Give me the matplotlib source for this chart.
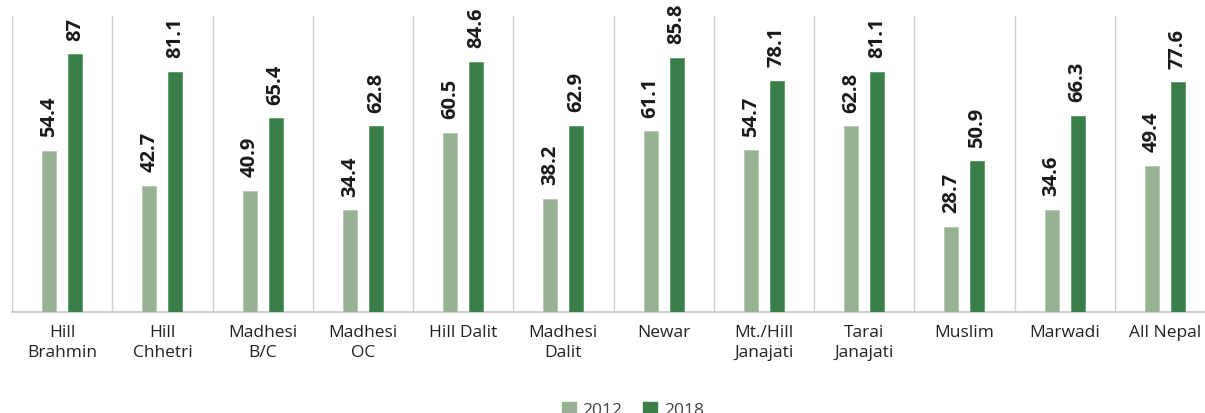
import numpy as np
import matplotlib.pyplot as plt
from matplotlib.patches import Patch

plt.rcParams["font.family"] = ["Open Sans", "DejaVu Sans"]

groups = ["Hill\nBrahmin", "Hill\nChhetri", "Madhesi\nB/C", "Madhesi\nOC", "Hill Dalit",
          "Madhesi\nDalit", "Newar", "Mt./Hill\nJanajati", "Tarai\nJanajati", "Muslim",
          "Marwadi", "All Nepal"]
values_2012 = [54.4, 42.7, 40.9, 34.4, 60.5, 38.2, 61.1, 54.7, 62.8, 28.7, 34.6, 49.4]
values_2018 = [87, 81.1, 65.4, 62.8, 84.6, 62.9, 85.8, 78.1, 81.1, 50.9, 66.3, 77.6]
years = ["2012", "2018"]

c2012 = "#97b293"
c2018 = "#3a7f4a"

W, H = 1205, 414
fig = plt.figure(figsize=(W / 100, H / 100), dpi=100)
# axes deliberately run past the right edge, last group is clipped
ax = fig.add_axes([12 / W, (H - 313) / H, 1203 / W, 296 / H])

x = np.arange(len(groups))
bw = 0.14
off = 0.13
ax.bar(x - off, values_2012, bw, color=c2012, edgecolor="#b5c9b1", linewidth=0.6, zorder=3)
ax.bar(x + off, values_2018, bw, color=c2018, edgecolor="#5c9a69", linewidth=0.6, zorder=3)

for xs, vals in ((x - off, values_2012), (x + off, values_2018)):
    for xi, v in zip(xs, vals):
        ax.annotate(f"{v:g}", (xi, v), xytext=(0, 10.5), textcoords="offset points",
                    rotation=90, ha="center", va="bottom", fontsize=14.5,
                    fontweight="bold", color="#1a1a1a", annotation_clip=False)

ax.set_xlim(-0.5, len(groups) - 0.5)
ax.set_ylim(0, 100)
for b in np.arange(-0.5, len(groups), 1.0):
    ax.axvline(b, color="#d0d0d0", linewidth=1, zorder=1)

for side in ("top", "right", "left"):
    ax.spines[side].set_visible(False)
ax.spines["bottom"].set_color("#c8c8c8")
ax.spines["bottom"].set_linewidth(1.2)

ax.set_yticks([])
ax.set_xticks(x)
ax.set_xticklabels(groups, fontsize=12.5, color="#222222", linespacing=1.3)
ax.tick_params(axis="x", length=0, pad=9)

# legend sits at the bottom edge, partly below the canvas
handles = [Patch(color=c2012), Patch(color=c2018)]
fig.legend(handles, years, loc="center", bbox_to_anchor=(633 / W, 1 - 411 / H),
           ncol=2, frameon=False, fontsize=12.5, handlelength=0.8, handleheight=0.8,
           columnspacing=1.2, handletextpad=0.4, labelcolor="#444444")

fig.savefig("out.png", dpi=100)
